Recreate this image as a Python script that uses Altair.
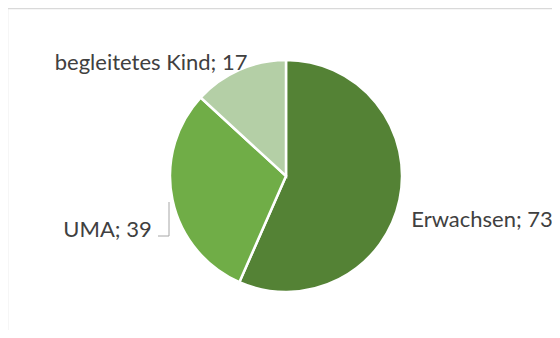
import altair as alt
import pandas as pd

categories = ["Erwachsen", "UMA", "begleitetes Kind"]
values = [73, 39, 17]
colors = ["#548235", "#70AD47", "#B4CFA6"]

df = pd.DataFrame({
    "cat": categories,
    "val": values,
    "idx": list(range(len(categories))),
})
df["label"] = [f"{c}; {v}" for c, v in zip(categories, values)]

CX, CY = 278, 168

base = alt.Chart(df).encode(
    theta=alt.Theta("val:Q", stack=True),
    order=alt.Order("idx:O"),
    x=alt.value(CX),
    y=alt.value(CY),
)

pie = base.mark_arc(radius=116, stroke="white", strokeWidth=2.5).encode(
    color=alt.Color("cat:N", scale=alt.Scale(domain=categories, range=colors), legend=None)
)

def lbl(cat, align, dx, dy):
    return base.mark_text(
        radius=128, align=align, baseline="middle", dx=dx, dy=dy,
        font="Lato", fontSize=22, color="#404040"
    ).encode(
        text=alt.condition(alt.datum.cat == cat, alt.Text("label:N"), alt.value(""))
    )

t1 = lbl("Erwachsen", "left", 0, 18)
t2 = lbl("UMA", "right", -9, 28)
t3 = lbl("begleitetes Kind", "right", 13, 4)

one = pd.DataFrame({"k": [0]})
leader_h = alt.Chart(one).mark_rule(color="#A6A6A6", strokeWidth=1).encode(
    x=alt.value(150), x2=alt.value(161), y=alt.value(228)
)
leader_v = alt.Chart(one).mark_rule(color="#A6A6A6", strokeWidth=1).encode(
    x=alt.value(161), y=alt.value(194), y2=alt.value(228)
)
border_top = alt.Chart(one).mark_rule(color="#D9D9D9", strokeWidth=1.5).encode(
    x=alt.value(-1), x2=alt.value(552), y=alt.value(0.5)
)
border_left = alt.Chart(one).mark_rule(color="#D9D9D9", strokeWidth=1.5).encode(
    x=alt.value(-0.5), y=alt.value(0), y2=alt.value(330)
)

chart = alt.layer(border_top, border_left, pie, t1, t2, t3, leader_h, leader_v).properties(
    width=544, height=322, padding=0, autosize=alt.AutoSizeParams(type="none")
).configure_view(stroke=None)

chart.save("out.html", embed_options={"renderer": "svg", "actions": False})
